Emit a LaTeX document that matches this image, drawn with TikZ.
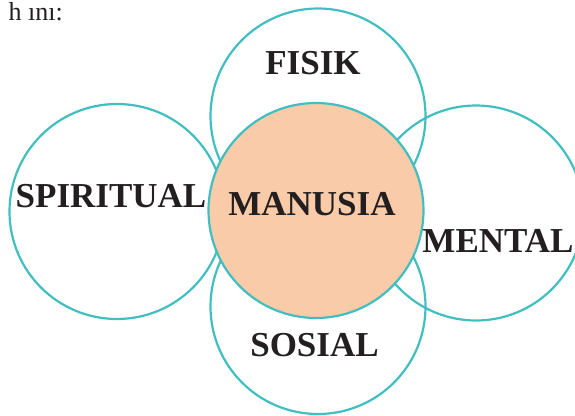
\documentclass[tikz,border=0pt]{standalone}
\usepackage{fontspec}
\setmainfont{Liberation Serif}
\definecolor{ringteal}{RGB}{64,190,192}
\definecolor{peach}{RGB}{249,203,168}
\definecolor{inkdark}{RGB}{35,31,32}
\tikzset{
  ring/.style={circle, draw=ringteal, line width=2.2pt, minimum size=215pt, inner sep=0pt},
  core/.style={ring, fill=peach},
  lbl/.style={anchor=base, inner sep=0pt, text=inkdark, font=\fontsize{35}{40}\selectfont\bfseries},
  toptext/.style={anchor=base east, inner sep=0pt, text=inkdark, font=\fontsize{26}{31}\selectfont}
}
\begin{document}
\begin{tikzpicture}[x=1pt,y=-1pt]
\useasboundingbox (0,0) rectangle (575,415);
\clip (0,0) rectangle (575,415);
\node (txt) [toptext] at (63,20) {h ını:};
\node (fisik) [ring] at (318,116) {};
\node (spiritual) [ring] at (117,211.5) {};
\node (mental) [ring] at (476,213) {};
\node (sosial) [ring] at (318,306.5) {};
\node (manusia) [core] at (316,210.5) {};
\node (lfisik) [lbl] at (313,74) {FISIK};
\node (lspiritual) [lbl] at (111,207.3) {SPIRITUAL};
\node (lmanusia) [lbl] at (312,215) {MANUSIA};
\node (lmental) [lbl] at (498,252.3) {MENTAL};
\node (lsosial) [lbl] at (314.5,356) {SOSIAL};
\end{tikzpicture}
\end{document}
